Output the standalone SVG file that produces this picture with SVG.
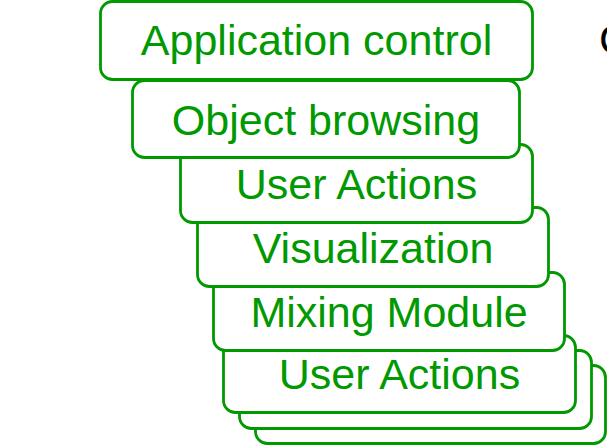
<svg xmlns="http://www.w3.org/2000/svg" width="607" height="447" viewBox="0 0 607 447">
<style>
.box{fill:#ffffff;stroke:#009900;stroke-width:2.8}
.lbl{fill:#009900;font-family:"Liberation Sans",Arial,sans-serif;font-size:43px;text-anchor:middle}
.blk{fill:#000000;font-family:"Liberation Sans",Arial,sans-serif;font-size:43px}
</style>
<rect width="607" height="447" fill="#ffffff"/>
<g id="connectors"></g>
<g id="node8"><rect class="box" x="255.5" y="365.5" width="350" height="78" rx="12"/></g>
<g id="node7"><rect class="box" x="239.5" y="350.5" width="352" height="78" rx="12"/></g>
<g id="node6"><rect class="box" x="223.5" y="335.5" width="352" height="77" rx="12"/><text class="lbl" x="399.5" y="389">User Actions</text></g>
<g id="node5"><rect class="box" x="213.5" y="272.5" width="351" height="78" rx="12"/><text class="lbl" x="389" y="327">Mixing Module</text></g>
<g id="node4"><rect class="box" x="197.5" y="207.5" width="351" height="79" rx="12"/><text class="lbl" x="373" y="263">Visualization</text></g>
<g id="node3"><rect class="box" x="180.5" y="144.5" width="352" height="78" rx="12"/><text class="lbl" x="356.5" y="199">User Actions</text></g>
<g id="node2"><rect class="box" x="132.5" y="80.5" width="387" height="77" rx="12"/><text class="lbl" x="326" y="135">Object browsing</text></g>
<g id="node1"><rect class="box" x="100.5" y="1.5" width="432" height="78" rx="12"/><text class="lbl" x="316.5" y="55">Application control</text></g>
<text class="blk" x="599" y="54">C</text>
</svg>
